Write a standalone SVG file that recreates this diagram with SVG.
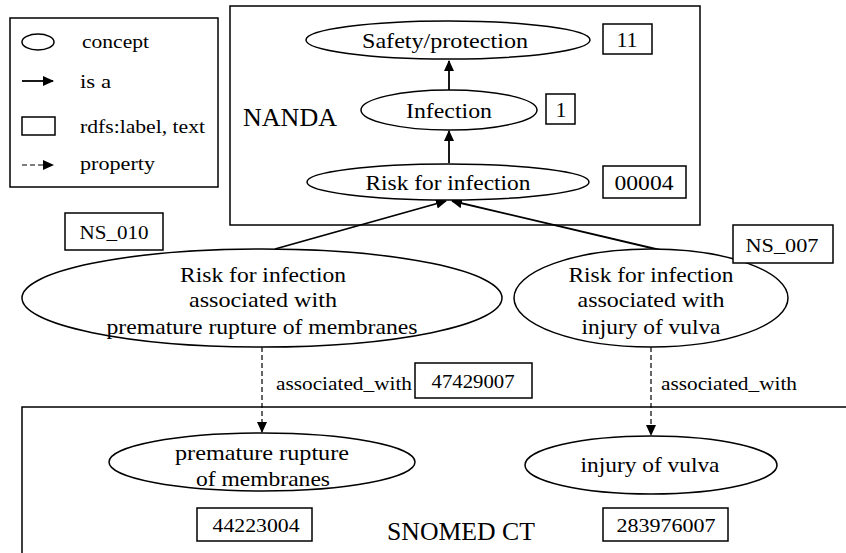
<svg xmlns="http://www.w3.org/2000/svg" width="846" height="553" viewBox="0 0 846 553">
<defs>
<style>
text{font-family:"Liberation Serif","Times New Roman",serif;fill:#000;}
.n{font-size:21px;text-anchor:middle;}
.t{font-size:22px;text-anchor:middle;}
.lg{font-size:19px;}
.lb{font-size:19px;text-anchor:middle;}
.lt{font-size:22px;text-anchor:middle;}
.big{font-size:25px;}
.sh{fill:#fff;stroke:#000;stroke-width:1.5;}
.fr{fill:none;stroke:#000;stroke-width:1.5;}
.isa{stroke:#000;stroke-width:1.8;fill:none;marker-end:url(#ah);}
.prop{stroke:#000;stroke-width:1.2;fill:none;stroke-dasharray:5,3;marker-end:url(#ah2);}
</style>
<marker id="ah" markerWidth="11" markerHeight="10" refX="10" refY="5" orient="auto" markerUnits="userSpaceOnUse" viewBox="0 0 11 10"><path d="M0,0 L11,5 L0,10 z" fill="#000"/></marker>
<marker id="ah2" markerWidth="11" markerHeight="10" refX="10" refY="5" orient="auto" markerUnits="userSpaceOnUse" viewBox="0 0 11 10"><path d="M0,0 L11,5 L0,10 z" fill="#000"/></marker>
</defs>
<rect width="846" height="553" fill="#fff"/>

<g id="legend">
<rect class="fr" x="10" y="18" width="208" height="169"/>
<ellipse class="sh" cx="38" cy="42" rx="16" ry="8"/>
<text class="lg" x="82" y="48" textLength="67" lengthAdjust="spacingAndGlyphs">concept</text>
<line class="isa" x1="22" y1="81" x2="53" y2="81"/>
<text class="lg" x="80" y="88" textLength="31" lengthAdjust="spacingAndGlyphs">is a</text>
<rect class="sh" x="22" y="117" width="33" height="18"/>
<text class="lg" x="80" y="133" textLength="125" lengthAdjust="spacingAndGlyphs">rdfs:label, text</text>
<line class="prop" x1="22" y1="165" x2="53" y2="165"/>
<text class="lg" x="80" y="170" textLength="75" lengthAdjust="spacingAndGlyphs">property</text>
</g>

<g id="nanda">
<rect class="fr" x="230" y="6" width="470" height="219"/>
<text class="big" x="243" y="126" textLength="94" lengthAdjust="spacingAndGlyphs">NANDA</text>
</g>
<g id="snomed">
<polyline class="fr" points="22,553 22,407 846,407"/>
<text class="big" x="387" y="540" textLength="148" lengthAdjust="spacingAndGlyphs">SNOMED CT</text>
</g>

<g id="connectors">
<line class="isa" x1="449" y1="90" x2="449" y2="61"/>
<line class="isa" x1="449" y1="163" x2="449" y2="131"/>
<line class="isa" x1="275" y1="249" x2="446" y2="201"/>
<line class="isa" x1="660" y1="250" x2="452" y2="201"/>
<line class="prop" x1="262" y1="347" x2="262" y2="432"/>
<line class="prop" x1="651" y1="347" x2="651" y2="435"/>
</g>

<g id="safety">
<ellipse class="sh" cx="448" cy="40" rx="142" ry="19"/>
<text class="t" x="445" y="48" textLength="166" lengthAdjust="spacingAndGlyphs">Safety/protection</text>
<rect class="sh" x="603" y="24" width="49" height="30"/>
<text class="lt" x="627" y="47">11</text>
</g>
<g id="infection">
<ellipse class="sh" cx="449" cy="110" rx="88" ry="20"/>
<text class="t" x="449" y="118" textLength="86" lengthAdjust="spacingAndGlyphs">Infection</text>
<rect class="sh" x="546" y="94" width="29" height="30"/>
<text class="lt" x="561" y="117">1</text>
</g>
<g id="risk">
<ellipse class="sh" cx="448" cy="182" rx="141" ry="18"/>
<text class="t" x="448" y="190" textLength="165" lengthAdjust="spacingAndGlyphs">Risk for infection</text>
<rect class="sh" x="603" y="166" width="83" height="32"/>
<text class="lt" x="644" y="190" textLength="59" lengthAdjust="spacingAndGlyphs">00004</text>
</g>
<g id="risk-prom">
<ellipse class="sh" cx="262" cy="298" rx="240" ry="49"/>
<text class="n" x="263" y="282" textLength="166" lengthAdjust="spacingAndGlyphs">Risk for infection</text>
<text class="n" x="263" y="307" textLength="148" lengthAdjust="spacingAndGlyphs">associated with</text>
<text class="n" x="262" y="334" textLength="311" lengthAdjust="spacingAndGlyphs">premature rupture of membranes</text>
<rect class="sh" x="65" y="213" width="98" height="37"/>
<text class="lb" x="114" y="239" textLength="69" lengthAdjust="spacingAndGlyphs">NS_010</text>
</g>
<g id="risk-vulva">
<ellipse class="sh" cx="651" cy="298" rx="137" ry="49"/>
<text class="n" x="651" y="282" textLength="165" lengthAdjust="spacingAndGlyphs">Risk for infection</text>
<text class="n" x="651" y="307" textLength="147" lengthAdjust="spacingAndGlyphs">associated with</text>
<text class="n" x="651" y="334" textLength="139" lengthAdjust="spacingAndGlyphs">injury of vulva</text>
<rect class="sh" x="733" y="225" width="100" height="38"/>
<text class="lb" x="782" y="252" textLength="73" lengthAdjust="spacingAndGlyphs">NS_007</text>
</g>
<g id="prop-labels">
<text class="lg" x="276" y="390" textLength="136" lengthAdjust="spacingAndGlyphs">associated_with</text>
<rect class="sh" x="415" y="363" width="117" height="35"/>
<text class="lb" x="473" y="388" textLength="83" lengthAdjust="spacingAndGlyphs">47429007</text>
<text class="lg" x="661" y="390" textLength="136" lengthAdjust="spacingAndGlyphs">associated_with</text>
</g>
<g id="prom">
<ellipse class="sh" cx="262" cy="462" rx="153" ry="29"/>
<text class="n" x="262" y="460" textLength="174" lengthAdjust="spacingAndGlyphs">premature rupture</text>
<text class="n" x="263" y="486" textLength="134" lengthAdjust="spacingAndGlyphs">of membranes</text>
<rect class="sh" x="197" y="508" width="115" height="33"/>
<text class="lb" x="256" y="532" textLength="87" lengthAdjust="spacingAndGlyphs">44223004</text>
</g>
<g id="vulva">
<ellipse class="sh" cx="651" cy="465" rx="126" ry="29"/>
<text class="n" x="650" y="472" textLength="139" lengthAdjust="spacingAndGlyphs">injury of vulva</text>
<rect class="sh" x="603" y="508" width="125" height="33"/>
<text class="lb" x="666" y="532" textLength="99" lengthAdjust="spacingAndGlyphs">283976007</text>
</g>
</svg>
